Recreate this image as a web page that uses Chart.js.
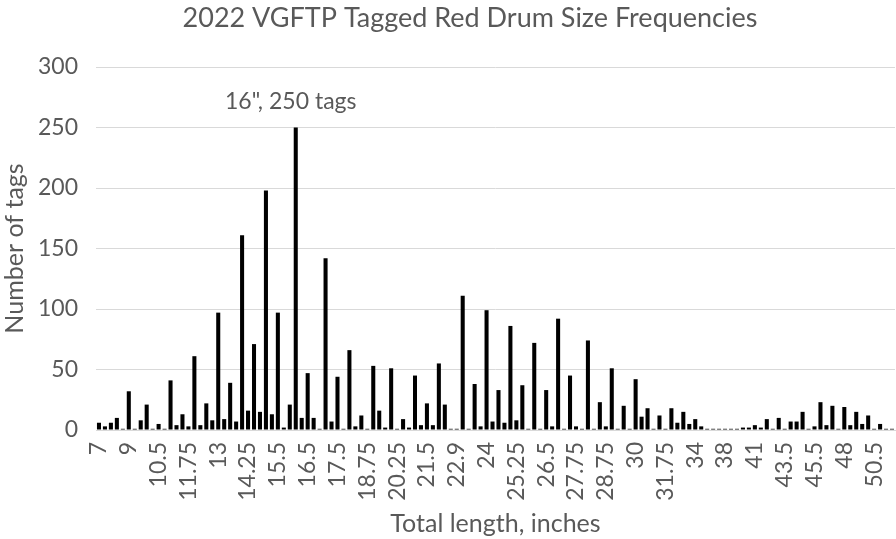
<!DOCTYPE html>
<html>
<head>
<meta charset="utf-8">
<script src="https://cdn.jsdelivr.net/npm/chart.js@4.4.1/dist/chart.umd.min.js"></script>
<style>
  html, body { margin: 0; padding: 0; background: #fff; }
</style>
</head>
<body>
<canvas id="chart" width="896" height="539"></canvas>
<script>
  // ─── Data ──────────────────────────────────────────

  const lengths = [
    7, 7.25, 7.5, 8, 8.5, 9, 9.25, 9.5, 10, 10.25,
    10.5, 10.75, 11, 11.25, 11.5, 11.75, 12, 12.25, 12.5, 12.75,
    13, 13.25, 13.5, 13.75, 14, 14.25, 14.5, 14.75, 15, 15.25,
    15.5, 15.75, 15.8, 16, 16.25, 16.5, 16.75, 16.8, 17, 17.25,
    17.5, 17.75, 18, 18.25, 18.5, 18.75, 19, 19.25, 19.5, 20,
    20.25, 20.5, 20.75, 21, 21.25, 21.5, 21.75, 22, 22.5, 22.75,
    22.9, 23, 23.25, 23.5, 23.75, 24, 24.25, 24.5, 24.75, 25,
    25.25, 25.5, 25.75, 26, 26.25, 26.5, 26.75, 27, 27.25, 27.5,
    27.75, 27.9, 28, 28.25, 28.5, 28.75, 29, 29.25, 29.5, 29.75,
    30, 30.25, 30.5, 30.75, 31, 31.75, 32, 32.5, 33, 33.5,
    34, 35, 35.5, 36, 37, 38, 39, 40, 40.5, 40.75,
    41, 41.5, 42, 42.5, 43, 43.5, 44, 44.5, 45, 45.25,
    45.5, 46, 46.5, 47, 47.5, 48, 48.5, 49, 49.5, 50,
    50.5, 51, 52, 53,
  ];

  const tagCounts = [
    6, 3, 6, 10, 1, 32, 1, 8, 21, 1,
    5, 1, 41, 4, 13, 3, 61, 4, 22, 8,
    97, 9, 39, 7, 161, 16, 71, 15, 198, 13,
    97, 2, 21, 250, 10, 47, 10, 1, 142, 7,
    44, 1, 66, 3, 12, 1, 53, 16, 2, 51,
    1, 9, 2, 45, 4, 22, 4, 55, 21, 1,
    1, 111, 1, 38, 3, 99, 7, 33, 6, 86,
    8, 37, 1, 72, 1, 33, 3, 92, 1, 45,
    3, 1, 74, 1, 23, 3, 51, 1, 20, 1,
    42, 11, 18, 1, 12, 1, 18, 6, 15, 5,
    9, 3, 1, 1, 1, 1, 1, 1, 2, 2,
    4, 2, 9, 1, 10, 1, 7, 7, 15, 1,
    3, 23, 4, 20, 1, 19, 4, 15, 5, 12,
    1, 5, 1, 1,
  ];

  const yTicks = [0, 50, 100, 150, 200, 250, 300];
  const labelEvery = 5;
  const peakLength = 16;
  const peakNote = '16", 250 tags';
  const chartTitle = '2022 VGFTP Tagged Red Drum Size Frequencies';

  const TEXT = '#595959';
  const GRID = '#d9d9d9';
  const FONT = 'Lato';

  // ─── Plugins ───────────────────────────────────────

  const titlePlugin = {
    id: 'topTitle',
    afterDraw(chart) {
      const ctx = chart.ctx;
      ctx.save();
      ctx.fillStyle = TEXT;
      ctx.font = `27px ${FONT}`;
      ctx.textAlign = 'center';
      ctx.textBaseline = 'middle';
      ctx.fillText(chartTitle, 470, 18);
      ctx.restore();
    },
  };

  const peakPlugin = {
    id: 'peakNote',
    afterDatasetsDraw(chart) {
      const { ctx, scales } = chart;
      const idx = lengths.indexOf(peakLength);
      const x = scales.x.getPixelForValue(idx);
      const y = scales.y.getPixelForValue(tagCounts[idx]);
      ctx.save();
      ctx.fillStyle = TEXT;
      ctx.font = `23px ${FONT}`;
      ctx.textAlign = 'center';
      ctx.textBaseline = 'bottom';
      ctx.fillText(peakNote, x - 5, y - 14);
      ctx.restore();
    },
  };

  // ─── Chart ─────────────────────────────────────────

  new Chart(document.getElementById('chart'), {
    type: 'bar',
    data: {
      labels: lengths,
      datasets: [
        {
          data: tagCounts,
          backgroundColor: '#000',
          borderWidth: 0,
          barPercentage: 0.68,
          categoryPercentage: 1,
        },
      ],
    },
    options: {
      responsive: false,
      devicePixelRatio: 1,
      animation: false,
      layout: { padding: { top: 67, right: 1, left: 0, bottom: 0 } },
      plugins: {
        legend: { display: false },
        tooltip: { enabled: false },
      },
      scales: {
        x: {
          grid: { display: false },
          border: { color: GRID, width: 1 },
          ticks: {
            autoSkip: false,
            maxRotation: 90,
            minRotation: 90,
            color: TEXT,
            padding: 4,
            font: { family: FONT, size: 23 },
            callback(val, i) {
              return i % labelEvery === 0 ? this.getLabelForValue(val) : '';
            },
          },
          title: {
            display: true,
            text: 'Total length, inches',
            color: TEXT,
            font: { family: FONT, size: 25 },
            padding: { top: 0, bottom: 0 },
          },
          afterFit(scale) {
            scale.height = 109;
            scale.paddingLeft = 0;
            scale.paddingRight = 0;
          },
        },
        y: {
          min: 0,
          max: 300,
          afterBuildTicks(scale) {
            scale.ticks = yTicks.map((v) => ({ value: v }));
          },
          grid: { color: GRID, drawTicks: false },
          border: { display: false },
          ticks: {
            color: TEXT,
            padding: 18,
            font: { family: FONT, size: 23 },
          },
          title: {
            display: true,
            text: 'Number of tags',
            color: TEXT,
            font: { family: FONT, size: 25 },
            padding: { top: 0, bottom: 0 },
          },
          afterFit(scale) {
            scale.width = 96;
          },
        },
      },
    },
    plugins: [titlePlugin, peakPlugin],
  });
</script>
</body>
</html>
